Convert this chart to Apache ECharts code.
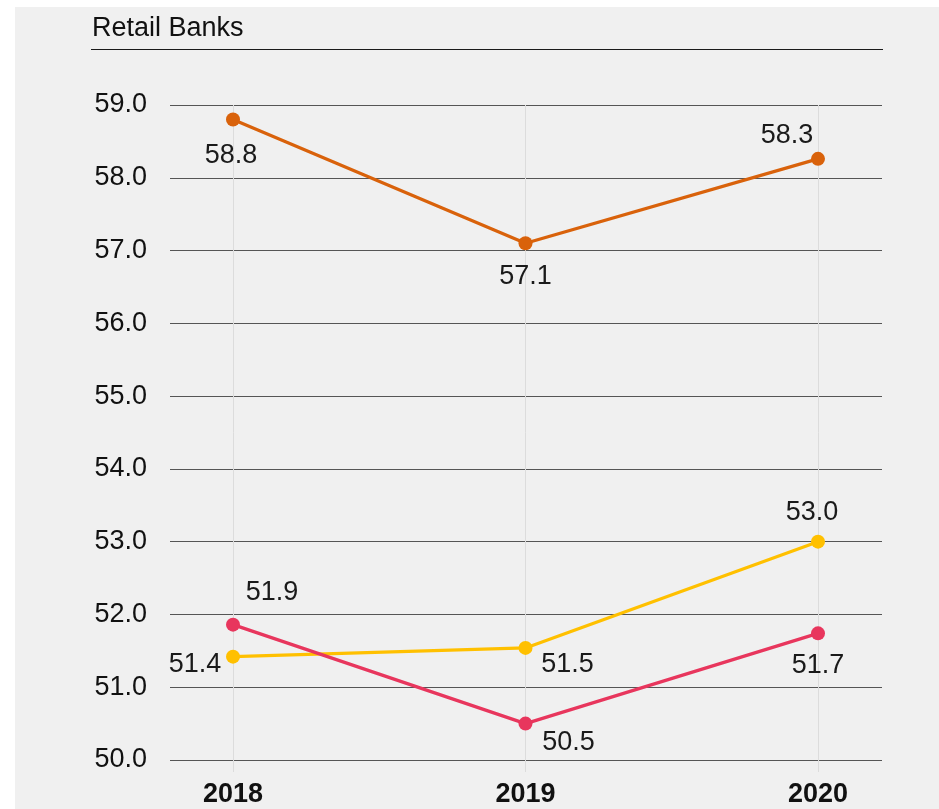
<!DOCTYPE html>
<html>
<head>
<meta charset="utf-8">
<script src="https://cdn.jsdelivr.net/npm/echarts@6/dist/echarts.min.js"></script>
<style>
  html, body { margin: 0; padding: 0; background: #fff; }
  #chart { position: absolute; left: 15px; top: 7px; width: 924px; height: 802px; background: #f0f0f0; }
</style>
</head>
<body>
<div id="chart"></div>
<script>
const years = ["2018", "2019", "2020"];
// plotted positions; labels show one decimal
const orangeValues = [58.8, 57.1, 58.26];
const yellowValues = [51.42, 51.54, 53.0];
const redValues = [51.86, 50.5, 51.74];
const yMin = 50, yMax = 59, yStep = 1;

const FONT = "'Liberation Sans', Arial, sans-serif";

// label placement per point (offset from the marker)
const orangeLabelOffsets = [[-2, 36], [0, 33], [-31, -23]];
const yellowLabelOffsets = [[-38, 8], [42, 17], [-6, -29]];
const redLabelOffsets = [[39, -32], [43, 19], [0, 32]];

function makeSeries(name, values, color, offsets) {
  return {
    name: name,
    type: "line",
    xAxisIndex: 1,
    yAxisIndex: 1,
    data: values.map((v, i) => ({
      value: v,
      label: { offset: offsets[i] }
    })),
    symbol: "circle",
    symbolSize: 14,
    lineStyle: { color: color, width: 3.2 },
    itemStyle: { color: color },
    label: {
      show: true,
      position: "inside",
      color: "#1a1a1a",
      fontFamily: FONT,
      fontSize: 27,
      formatter: (p) => p.value.toFixed(1)
    },
    emphasis: { disabled: true },
    z: 5
  };
}

const chart = echarts.init(document.getElementById("chart"));
chart.setOption({
  animation: false,
  backgroundColor: "#f0f0f0",
  title: {
    text: "Retail Banks",
    left: 72,
    top: 3,
    textStyle: { fontFamily: FONT, fontSize: 27, fontWeight: "normal", color: "#111" }
  },
  graphic: [{
    type: "line",
    shape: { x1: 76, y1: 42.5, x2: 868, y2: 42.5 },
    style: { stroke: "#1a1a1a", lineWidth: 1 }
  }],
  grid: [
    { left: 155, right: 57, top: 98, bottom: 49 },
    { left: 218, right: 121, top: 98, bottom: 49 }
  ],
  xAxis: [
    { gridIndex: 0, type: "category", data: years, show: false },
    {
      gridIndex: 1,
      type: "category",
      data: years,
      boundaryGap: false,
      axisLine: { show: false },
      axisTick: { show: true, length: 12, lineStyle: { color: "#dcdcdc" } },
      splitLine: { show: true, lineStyle: { color: "#dcdcdc", width: 1 } },
      axisLabel: { margin: 21, color: "#111", fontFamily: FONT, fontSize: 27, fontWeight: "bold" }
    }
  ],
  yAxis: [
    {
      gridIndex: 0,
      type: "value",
      min: yMin,
      max: yMax,
      interval: yStep,
      axisLine: { show: false },
      axisTick: { show: false },
      splitLine: { lineStyle: { color: "#555", width: 1.2 } },
      axisLabel: {
        margin: 23,
        color: "#111",
        fontFamily: FONT,
        fontSize: 27,
        formatter: (v) => v.toFixed(1)
      }
    },
    { gridIndex: 1, type: "value", min: yMin, max: yMax, interval: yStep, show: false, splitLine: { show: false } }
  ],
  series: [
    makeSeries("Orange", orangeValues, "#d9620b", orangeLabelOffsets),
    makeSeries("Yellow", yellowValues, "#ffc000", yellowLabelOffsets),
    makeSeries("Red", redValues, "#e8365d", redLabelOffsets)
  ]
});
</script>
</body>
</html>
